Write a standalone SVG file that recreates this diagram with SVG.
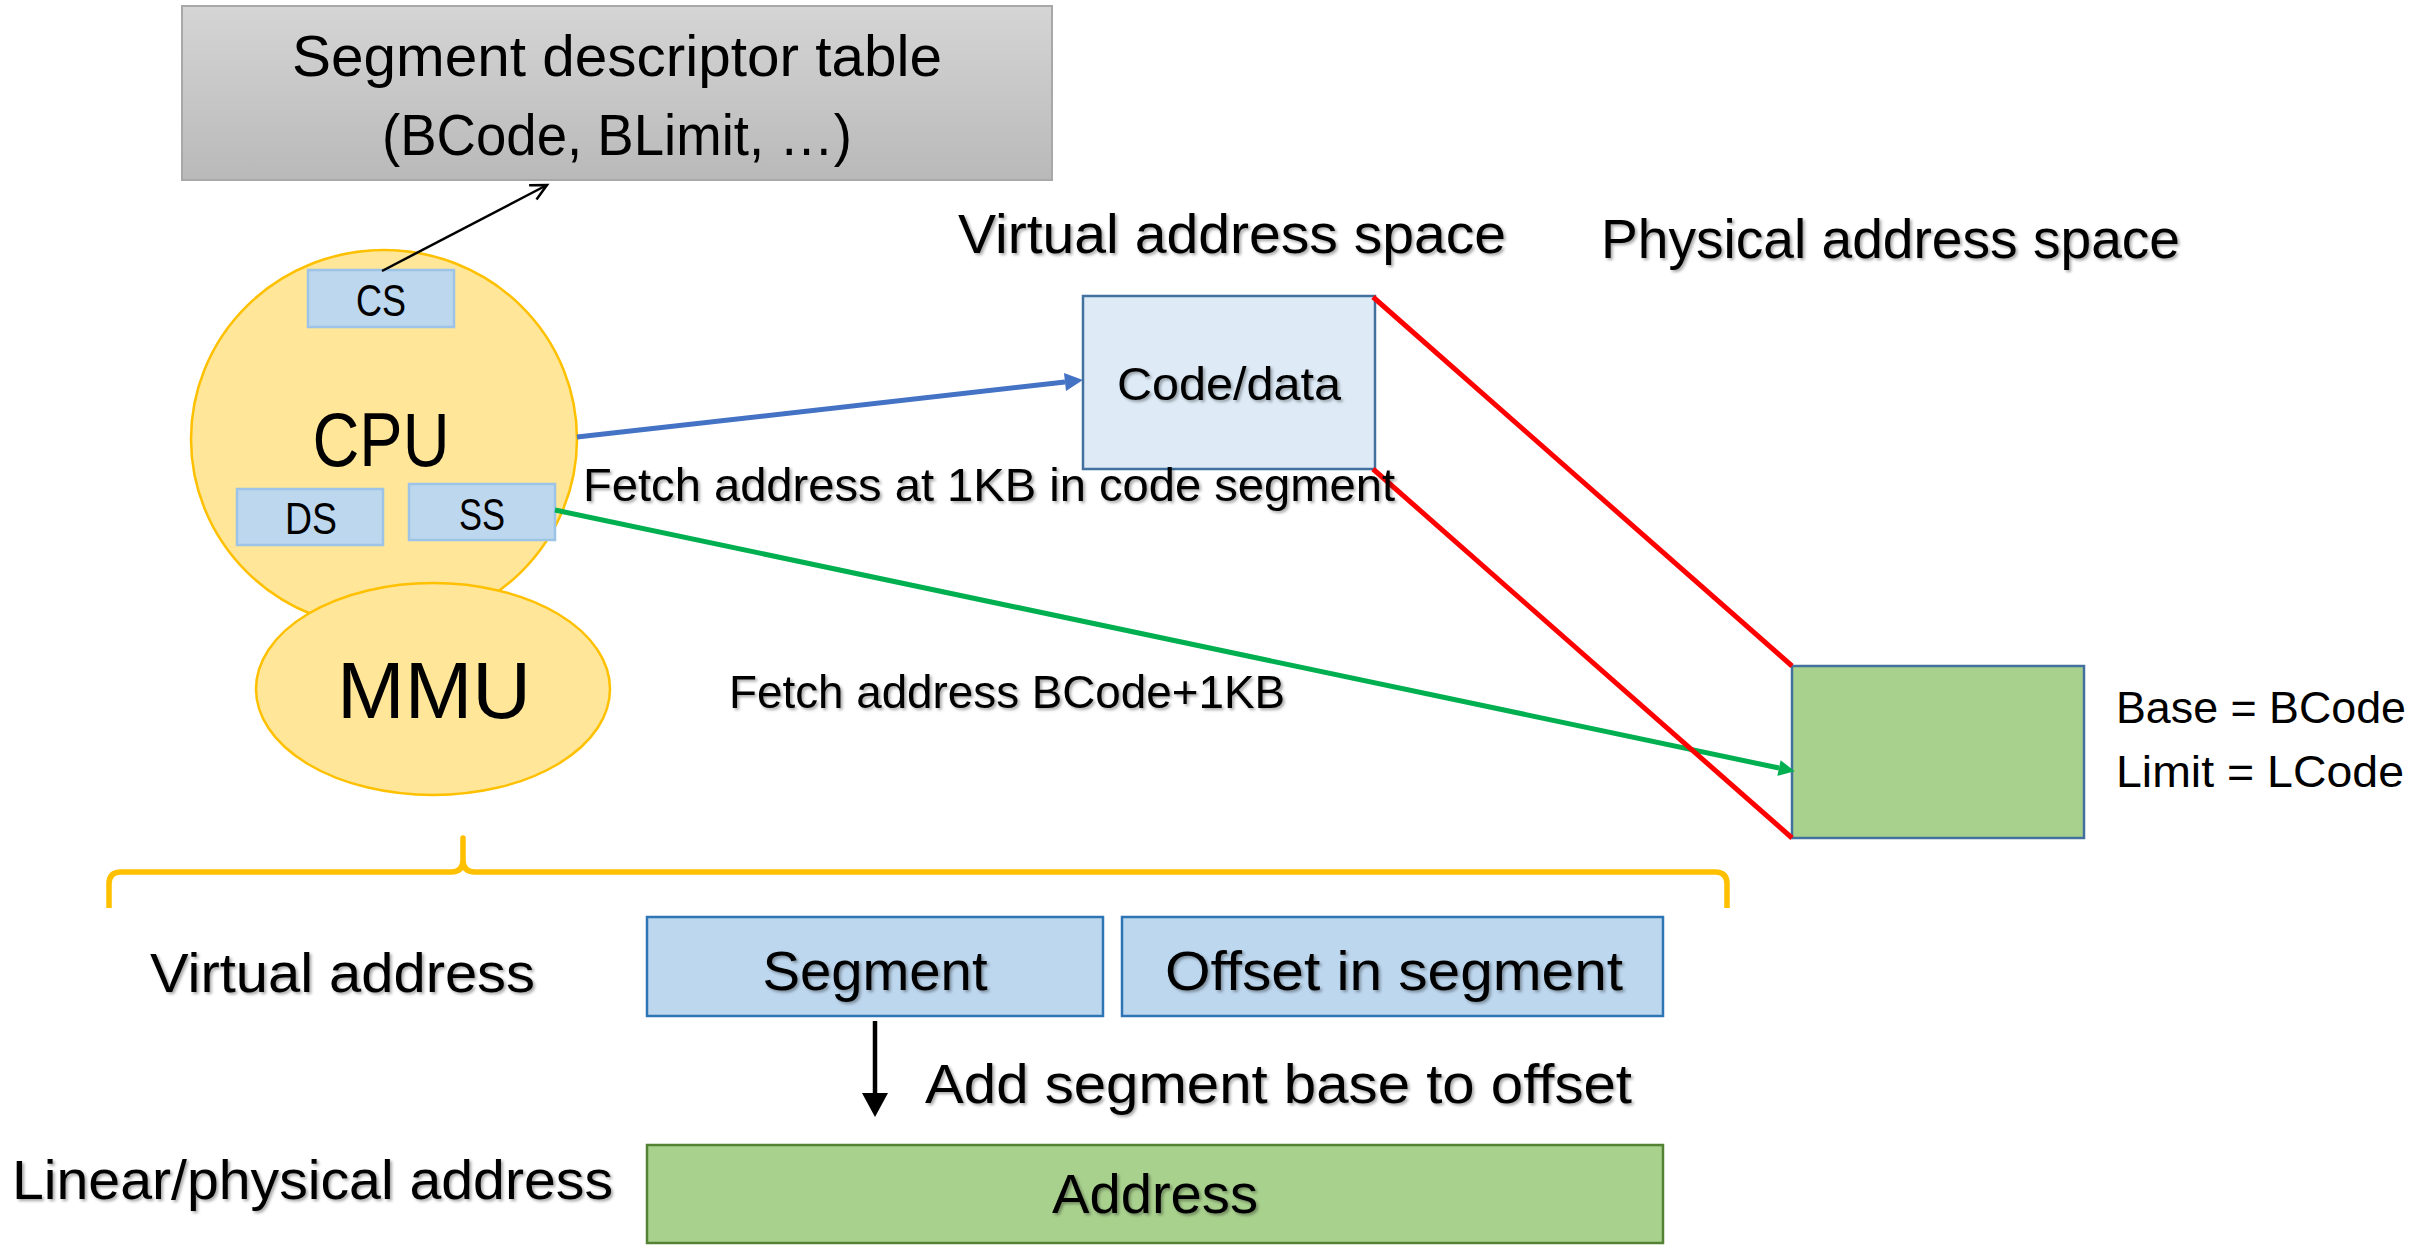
<svg xmlns="http://www.w3.org/2000/svg" width="2433" height="1254" viewBox="0 0 2433 1254">
  <defs>
    <linearGradient id="tableFill" x1="0" y1="0" x2="0" y2="1">
      <stop offset="0" stop-color="#d5d5d5"/>
      <stop offset="1" stop-color="#b9b9b9"/>
    </linearGradient>
    <filter id="softShadow" x="-5%" y="-20%" width="110%" height="150%">
      <feDropShadow dx="2" dy="2" stdDeviation="1.4" flood-color="#000" flood-opacity="0.35"/>
    </filter>
    <marker id="headBlue" markerUnits="userSpaceOnUse" markerWidth="20" markerHeight="18" refX="0" refY="9" orient="auto" overflow="visible">
      <path d="M0,0 L18,9 L0,18 z" fill="#4472C4"/>
    </marker>
    <marker id="headGreen" markerUnits="userSpaceOnUse" markerWidth="18" markerHeight="16" refX="0" refY="8" orient="auto" overflow="visible">
      <path d="M0,0 L16,8 L0,16 z" fill="#00B050"/>
    </marker>
    <marker id="headOpen" markerUnits="userSpaceOnUse" markerWidth="20" markerHeight="20" refX="16" refY="8" orient="auto" overflow="visible">
      <path d="M0,0 L16,8 L0,16" fill="none" stroke="#000" stroke-width="2.5"/>
    </marker>
    <marker id="headBlack" markerUnits="userSpaceOnUse" markerWidth="26" markerHeight="28" refX="0" refY="13" orient="auto" overflow="visible">
      <path d="M0,0 L24,13 L0,26 z" fill="#000"/>
    </marker>
  </defs>
  <style>
    text { font-family: "Liberation Sans", Arial, sans-serif; fill: #000; }
    .mid { text-anchor: middle; }
    .shadow { filter: url(#softShadow); }
    .reg { fill: #BDD7EE; stroke: #9DC3E6; stroke-width: 2.5; }
    .field { fill: #BDD7EE; stroke: #2E75B6; stroke-width: 2.5; }
    .blob { fill: #FFE699; stroke: #FFC000; stroke-width: 2.5; }
    .line { fill: none; }
  </style>

  <rect width="2433" height="1254" fill="#ffffff"/>

  <!-- descriptor table -->
  <g id="descriptor-table">
    <rect x="182" y="6" width="870" height="174" fill="url(#tableFill)" stroke="#a8a8a8" stroke-width="2"/>
    <text class="mid" x="617" y="76" font-size="58" textLength="650" lengthAdjust="spacingAndGlyphs">Segment descriptor table</text>
    <text class="mid" x="617" y="155" font-size="58" textLength="470" lengthAdjust="spacingAndGlyphs">(BCode, BLimit, …)</text>
  </g>

  <!-- processor with its segment registers -->
  <g id="cpu">
    <ellipse class="blob" cx="384" cy="439" rx="193" ry="189"/>
    <text class="mid" x="381" y="466" font-size="76" textLength="137" lengthAdjust="spacingAndGlyphs">CPU</text>
  </g>
  <g id="reg-cs">
    <rect class="reg" x="308" y="270" width="146" height="57"/>
    <text class="mid" x="381" y="316" font-size="45" textLength="50" lengthAdjust="spacingAndGlyphs">CS</text>
  </g>
  <g id="reg-ds">
    <rect class="reg" x="237" y="489" width="146" height="56"/>
    <text class="mid" x="311" y="534" font-size="45" textLength="52" lengthAdjust="spacingAndGlyphs">DS</text>
  </g>
  <g id="reg-ss">
    <rect class="reg" x="409" y="484" width="146" height="56"/>
    <text class="mid" x="482" y="530" font-size="45" textLength="46" lengthAdjust="spacingAndGlyphs">SS</text>
  </g>

  <g id="mmu">
    <ellipse class="blob" cx="433" cy="689" rx="177" ry="106"/>
    <text class="mid" x="434" y="718" font-size="80" textLength="194" lengthAdjust="spacingAndGlyphs">MMU</text>
  </g>

  <!-- address space headings -->
  <g id="heading-virtual">
    <text class="shadow" x="958" y="253" font-size="55" textLength="548" lengthAdjust="spacingAndGlyphs">Virtual address space</text>
  </g>
  <g id="heading-physical">
    <text class="shadow" x="1601" y="258" font-size="55" textLength="579" lengthAdjust="spacingAndGlyphs">Physical address space</text>
  </g>

  <g id="code-data">
    <rect x="1083" y="296" width="292" height="173" fill="#DEEBF7" stroke="#41719C" stroke-width="2.5"/>
    <text class="mid shadow" x="1229" y="400" font-size="46" textLength="224" lengthAdjust="spacingAndGlyphs">Code/data</text>
  </g>

  <g id="physical-segment">
    <rect x="1792" y="666" width="292" height="172" fill="#A9D18E" stroke="#41719C" stroke-width="2.5"/>
    <text x="2116" y="723" font-size="45" textLength="290" lengthAdjust="spacingAndGlyphs">Base = BCode</text>
    <text x="2116" y="787" font-size="45" textLength="288" lengthAdjust="spacingAndGlyphs">Limit = LCode</text>
  </g>

  <!-- connectors -->
  <g id="connectors">
    <line class="line" x1="382" y1="271" x2="547" y2="185" stroke="#000" stroke-width="2.5" marker-end="url(#headOpen)"/>
    <line class="line" x1="577" y1="437" x2="1065" y2="382" stroke="#4472C4" stroke-width="5" marker-end="url(#headBlue)"/>
    <line class="line" x1="555" y1="510" x2="1779" y2="768" stroke="#00B050" stroke-width="5" marker-end="url(#headGreen)"/>
    <line class="line" x1="1373" y1="297" x2="1792" y2="666" stroke="#FF0000" stroke-width="5"/>
    <line class="line" x1="1373" y1="469" x2="1792" y2="838" stroke="#FF0000" stroke-width="5"/>
    <line class="line" x1="875" y1="1021" x2="875" y2="1093" stroke="#000" stroke-width="4.5" marker-end="url(#headBlack)"/>
  </g>

  <g id="label-fetch-code">
    <text class="shadow" x="583" y="501" font-size="46" textLength="812" lengthAdjust="spacingAndGlyphs">Fetch address at 1KB in code segment</text>
  </g>
  <g id="label-fetch-phys">
    <text class="shadow" x="729" y="708" font-size="46" textLength="556" lengthAdjust="spacingAndGlyphs">Fetch address BCode+1KB</text>
  </g>

  <!-- brace grouping the MMU's translation -->
  <g id="brace">
    <path d="M109,908 V884 Q109,872 121,872 H451 Q463,872 463,860 V838 V860 Q463,872 475,872 H1715 Q1727,872 1727,884 V908" fill="none" stroke="#FFC000" stroke-width="5.5" stroke-linejoin="round"/>
  </g>

  <g id="label-virtual-address">
    <text class="shadow" x="150" y="992" font-size="55" textLength="385" lengthAdjust="spacingAndGlyphs">Virtual address</text>
  </g>
  <g id="field-segment">
    <rect class="field" x="647" y="917" width="456" height="99"/>
    <text class="mid shadow" x="875" y="990" font-size="55" textLength="225" lengthAdjust="spacingAndGlyphs">Segment</text>
  </g>
  <g id="field-offset">
    <rect class="field" x="1122" y="917" width="541" height="99"/>
    <text class="mid shadow" x="1394" y="990" font-size="55" textLength="458" lengthAdjust="spacingAndGlyphs">Offset in segment</text>
  </g>

  <g id="label-add-base">
    <text class="shadow" x="925" y="1103" font-size="56" textLength="707" lengthAdjust="spacingAndGlyphs">Add segment base to offset</text>
  </g>

  <g id="label-linear">
    <text class="shadow" x="12" y="1199" font-size="55" textLength="601" lengthAdjust="spacingAndGlyphs">Linear/physical address</text>
  </g>
  <g id="field-address">
    <rect x="647" y="1145" width="1016" height="98" fill="#A9D18E" stroke="#548235" stroke-width="2.5"/>
    <text class="mid shadow" x="1155" y="1213" font-size="55" textLength="206" lengthAdjust="spacingAndGlyphs">Address</text>
  </g>
</svg>
